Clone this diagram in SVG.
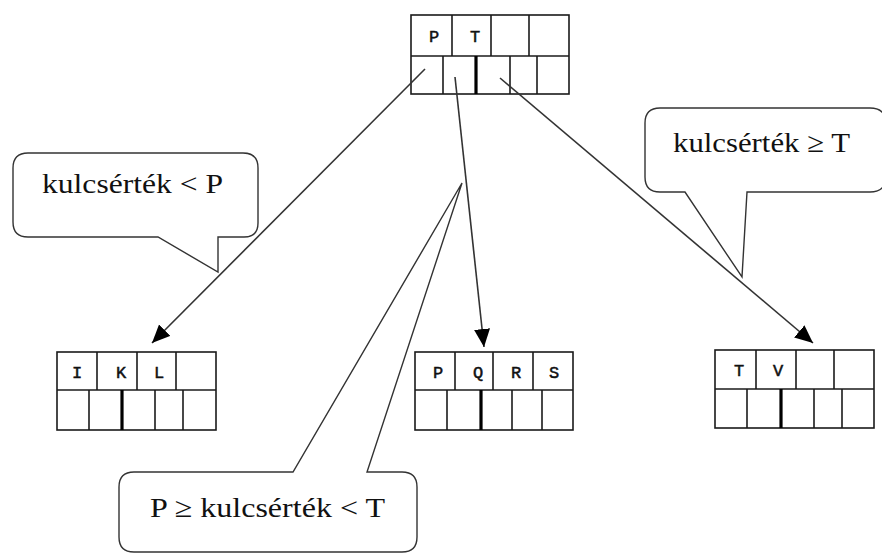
<svg xmlns="http://www.w3.org/2000/svg" width="882" height="553" viewBox="0 0 882 553">
<defs>
<style>
.box{fill:#fff;stroke:#1a1a1a;stroke-width:1.6}
.div{stroke:#1a1a1a;stroke-width:1.6}
.thick{stroke:#000;stroke-width:3.2}
.key{font-family:"Liberation Mono","Courier New",monospace;font-size:17px;fill:#111;stroke:#111;stroke-width:0.5;text-anchor:middle}
.call{fill:#fff;stroke:#333;stroke-width:1.4}
.ctext{font-family:"Liberation Serif","Times New Roman",serif;font-size:28px;fill:#111}
.arrow{stroke:#333;stroke-width:1.6;fill:none}
</style>
<marker id="ah" markerUnits="userSpaceOnUse" markerWidth="22" markerHeight="18" refX="18" refY="8" orient="auto">
<path d="M0,0 L18,8 L0,16 Z" fill="#000"/>
</marker>
</defs>
<rect width="882" height="553" fill="#fff"/>

<g id="callout-left">
<path class="call" d="M28,153 H243 Q258,153 258,168 V223 Q258,237 244,237 H218 V272 L158,237 H28 Q13,237 13,222 V168 Q13,153 28,153 Z"/>
<text class="ctext" x="42" y="193" textLength="181" lengthAdjust="spacingAndGlyphs">kulcsérték &lt; P</text>
</g>

<g id="callout-right">
<path class="call" d="M660,108 H870 Q886,108 886,124 V176 Q886,192 870,192 H747 L742,277 L685,192 H660 Q645,192 645,177 V123 Q645,108 660,108 Z"/>
<text class="ctext" x="673" y="152" textLength="177" lengthAdjust="spacingAndGlyphs">kulcsérték ≥ T</text>
</g>

<g id="callout-bottom">
<path class="call" d="M134,472 H293 L462,183 L367,472 H402 Q417,472 417,487 V537 Q417,552 402,552 H134 Q119,552 119,537 V487 Q119,472 134,472 Z"/>
<text class="ctext" x="150" y="517" textLength="235" lengthAdjust="spacingAndGlyphs">P ≥ kulcsérték &lt; T</text>
</g>

<g id="node-root">
<rect class="box" x="411" y="15" width="158" height="79"/>
<line class="div" x1="411" y1="56" x2="569" y2="56"/>
<line class="div" x1="452" y1="15" x2="452" y2="56"/>
<line class="div" x1="491" y1="15" x2="491" y2="56"/>
<line class="div" x1="529" y1="15" x2="529" y2="56"/>
<line class="div" x1="443" y1="56" x2="443" y2="94"/>
<line class="thick" x1="476" y1="56" x2="476" y2="94"/>
<line class="div" x1="510" y1="56" x2="510" y2="94"/>
<line class="div" x1="537" y1="56" x2="537" y2="94"/>
<text class="key" x="434" y="42">P</text>
<text class="key" x="475" y="42">T</text>
</g>

<g id="node-left">
<rect class="box" x="57" y="352" width="159" height="78"/>
<line class="div" x1="57" y1="390" x2="216" y2="390"/>
<line class="div" x1="97" y1="352" x2="97" y2="390"/>
<line class="div" x1="137" y1="352" x2="137" y2="390"/>
<line class="div" x1="176" y1="352" x2="176" y2="390"/>
<line class="div" x1="89" y1="390" x2="89" y2="430"/>
<line class="thick" x1="122" y1="390" x2="122" y2="430"/>
<line class="div" x1="155" y1="390" x2="155" y2="430"/>
<line class="div" x1="183" y1="390" x2="183" y2="430"/>
<text class="key" x="77" y="378">I</text>
<text class="key" x="121" y="378">K</text>
<text class="key" x="159" y="378">L</text>
</g>

<g id="node-middle">
<rect class="box" x="415" y="352" width="158" height="78"/>
<line class="div" x1="415" y1="390" x2="573" y2="390"/>
<line class="div" x1="455" y1="352" x2="455" y2="390"/>
<line class="div" x1="493" y1="352" x2="493" y2="390"/>
<line class="div" x1="533" y1="352" x2="533" y2="390"/>
<line class="div" x1="447" y1="390" x2="447" y2="430"/>
<line class="thick" x1="481" y1="390" x2="481" y2="430"/>
<line class="div" x1="512" y1="390" x2="512" y2="430"/>
<line class="div" x1="542" y1="390" x2="542" y2="430"/>
<text class="key" x="438" y="378">P</text>
<text class="key" x="478" y="378">Q</text>
<text class="key" x="516" y="378">R</text>
<text class="key" x="554" y="378">S</text>
</g>

<g id="node-right">
<rect class="box" x="715" y="350" width="159" height="78"/>
<line class="div" x1="715" y1="389" x2="874" y2="389"/>
<line class="div" x1="756" y1="350" x2="756" y2="389"/>
<line class="div" x1="796" y1="350" x2="796" y2="389"/>
<line class="div" x1="834" y1="350" x2="834" y2="389"/>
<line class="div" x1="747" y1="389" x2="747" y2="428"/>
<line class="thick" x1="781" y1="389" x2="781" y2="428"/>
<line class="div" x1="814" y1="389" x2="814" y2="428"/>
<line class="div" x1="842" y1="389" x2="842" y2="428"/>
<text class="key" x="739" y="376">T</text>
<text class="key" x="778" y="376">V</text>
</g>

<g id="connectors">
<line class="arrow" x1="425" y1="69" x2="152" y2="343" marker-end="url(#ah)"/>
<line class="arrow" x1="455" y1="77" x2="484" y2="347" marker-end="url(#ah)"/>
<line class="arrow" x1="500" y1="78" x2="813" y2="343" marker-end="url(#ah)"/>
</g>
</svg>
